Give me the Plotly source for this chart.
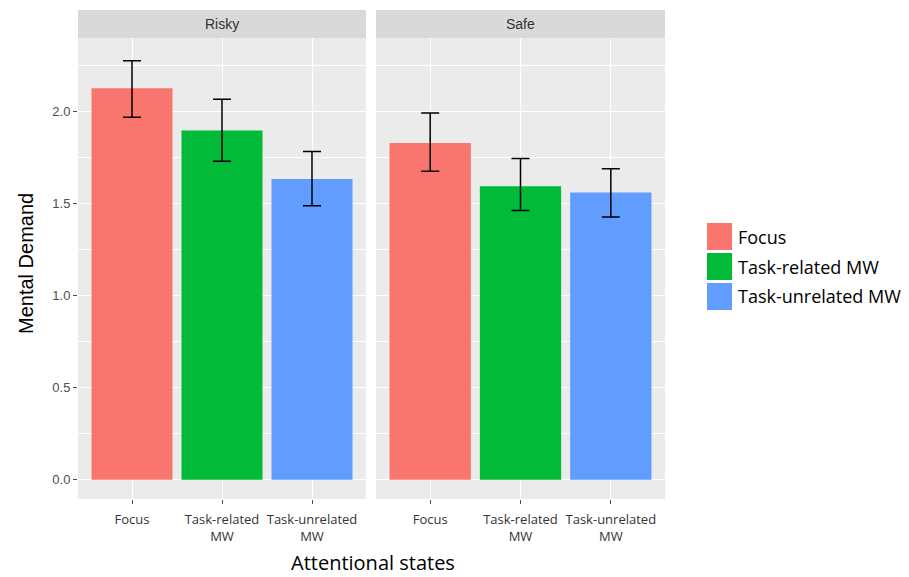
import plotly.graph_objects as go

categories = ["Focus", "Task-related MW", "Task-unrelated MW"]
tick_labels = ["Focus", "Task-related<br>MW", "Task-unrelated<br>MW"]
facets = ["Risky", "Safe"]
colors = ["#F8766D", "#00BA38", "#619CFF"]

risky_mean = [2.127, 1.898, 1.634]
risky_upper = [2.277, 2.067, 1.783]
risky_lower = [1.969, 1.730, 1.489]

safe_mean = [1.830, 1.594, 1.561]
safe_upper = [1.993, 1.745, 1.690]
safe_lower = [1.676, 1.462, 1.428]

y_ticks = [0.0, 0.5, 1.0, 1.5, 2.0]
y_tick_text = ["0.0", "0.5", "1.0", "1.5", "2.0"]

# page body has an 8px margin; compensate so the figure lands where the reference is
OFF = 8
W, H = 909 - OFF, 577 - OFF


def px(x):
    return (x - OFF) / W


def py(y):
    return 1 - (y - OFF) / H


left_dom = [px(78), px(366)]
right_dom = [px(376), px(665)]
panel_y = [py(499), py(38)]
strip_y = [py(38), py(10)]

fig = go.Figure()

data = {"Risky": (risky_mean, risky_upper, risky_lower),
        "Safe": (safe_mean, safe_upper, safe_lower)}

for fi, facet in enumerate(facets):
    mean, up, lo = data[facet]
    xa = "x" if fi == 0 else "x2"
    ya = "y" if fi == 0 else "y2"
    for ci, cat in enumerate(categories):
        fig.add_trace(go.Bar(
            x=[cat], y=[mean[ci]],
            xaxis=xa, yaxis=ya,
            marker=dict(color=colors[ci], line=dict(width=0)),
            width=0.9,
            name=cat, showlegend=False,
            error_y=dict(type="data", symmetric=False,
                         array=[up[ci] - mean[ci]],
                         arrayminus=[mean[ci] - lo[ci]],
                         color="black", thickness=1.5, width=9),
        ))

yr = [-0.105, 2.40]
common_x = dict(type="category", categoryorder="array", categoryarray=categories,
                range=[-0.6, 2.6], showgrid=True, gridcolor="white", gridwidth=1.2,
                tickmode="array", tickvals=categories, ticktext=tick_labels,
                ticks="outside", ticklen=4, tickcolor="#4D4D4D", ticklabelstandoff=4,
                tickfont=dict(family="Open Sans", size=13, color="#333333"),
                zeroline=False, showline=False)
common_y = dict(range=yr, showgrid=True, gridcolor="white", gridwidth=1.2,
                tickmode="array", tickvals=y_ticks, zeroline=False, showline=False,
                minor=dict(dtick=0.25, tick0=0, showgrid=True, gridcolor="white", gridwidth=0.6),
                domain=panel_y)

fig.update_layout(
    width=W, height=H,
    margin=dict(l=0, r=0, t=0, b=0),
    paper_bgcolor="white", plot_bgcolor="#EBEBEB",
    barmode="overlay",
    xaxis=dict(domain=left_dom, anchor="y", **common_x),
    xaxis2=dict(domain=right_dom, anchor="y2", **common_x),
    yaxis=dict(anchor="x", ticktext=y_tick_text, ticks="outside", ticklen=4, tickcolor="#4D4D4D",
               tickfont=dict(family="Liberation Sans", size=13, color="#4D4D4D"), **common_y),
    yaxis2=dict(anchor="x2", showticklabels=False, ticks="", matches="y", **common_y),
    showlegend=False,
    font=dict(family="Liberation Sans"),
)

# facet strips
for fi, dom in enumerate([left_dom, right_dom]):
    fig.add_shape(type="rect", xref="paper", yref="paper",
                  x0=dom[0], x1=dom[1], y0=strip_y[0], y1=strip_y[1],
                  fillcolor="#D9D9D9", line=dict(width=0), layer="below")
    fig.add_annotation(text=facets[fi], xref="paper", yref="paper",
                       x=(dom[0] + dom[1]) / 2, y=(strip_y[0] + strip_y[1]) / 2,
                       xanchor="center", yanchor="middle",
                       showarrow=False, font=dict(family="Liberation Sans", size=14, color="#333333"))

# legend (drawn manually to match ggplot key size)
key_tops = [223, 253, 283]
for ci, cat in enumerate(categories):
    t = key_tops[ci]
    fig.add_shape(type="rect", xref="paper", yref="paper",
                  x0=px(707), x1=px(732), y0=py(t + 27), y1=py(t),
                  fillcolor=colors[ci], line=dict(width=0))
    fig.add_annotation(text=cat, xref="paper", yref="paper",
                       x=px(736), y=py(t + 13.5), xanchor="left", yanchor="middle",
                       showarrow=False, font=dict(family="Open Sans", size=18, color="black"))

# axis titles
fig.add_annotation(text="Mental Demand", xref="paper", yref="paper",
                   x=px(26), y=py(264), textangle=-90, showarrow=False,
                   xanchor="center", yanchor="middle",
                   font=dict(family="Liberation Sans", size=20, color="black"))
fig.add_annotation(text="Attentional states", xref="paper", yref="paper",
                   x=px(373), y=0, showarrow=False,
                   xanchor="center", yanchor="bottom", yshift=-1,
                   font=dict(family="Open Sans", size=20, color="black"))

fig.write_html("out.html")
